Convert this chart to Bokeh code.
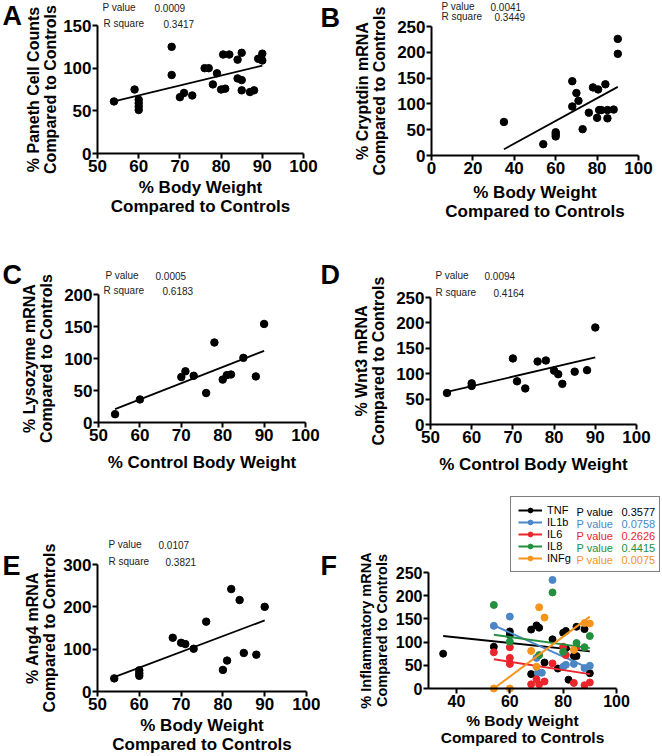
from bokeh.plotting import figure
from bokeh.models import Range1d, FixedTicker, Label, Legend, LegendItem
from bokeh.layouts import column, row
from bokeh.embed import file_html
from bokeh.resources import INLINE

FONT = "Liberation Sans"

# ---------------- data ----------------
# Panel A: Paneth cell counts
a_x = [54, 59, 60, 60, 60, 60, 68, 68, 70, 71, 73, 76, 77, 78, 79, 80, 81, 80.5, 82, 84, 84, 85, 85, 85, 87, 88, 89, 90, 90]
a_y = [61, 75, 63, 59, 55, 51, 125, 92, 66, 71, 68, 100, 100, 81, 94, 75, 76, 116, 116, 110, 88, 86, 118, 74, 72, 74, 111, 117, 109]
a_fit_x = [54, 90]
a_fit_y = [61, 103]

# Panel B: Cryptdin mRNA
b_x = [35, 54, 60, 60, 60, 68, 68, 70, 71, 73, 76, 78, 80, 80.5, 81, 82, 84, 85, 85, 88, 90, 90]
b_y = [65, 22, 45, 41, 37, 144, 95, 121, 106, 51, 83, 132, 73, 128, 88, 88, 138, 72, 88, 89, 226, 197]
b_fit_x = [35, 90]
b_fit_y = [12, 133]

# Panel C: Lysozyme mRNA
c_x = [54, 60, 70, 71, 73, 76, 78, 80, 81, 82, 85, 88, 90]
c_y = [13, 36, 71, 80, 73, 46, 125, 67, 74, 75, 101, 72, 154]
c_fit_x = [54, 90]
c_fit_y = [21, 112]

# Panel D: Wnt3 mRNA
d_x = [54, 60, 60, 70, 71, 73, 76, 78, 80, 81, 82, 85, 88, 90]
d_y = [62, 81, 76, 130, 85, 71, 124, 126, 106, 99, 80, 104, 107, 191]
d_fit_x = [54, 90]
d_fit_y = [64, 132]

# Panel E: Ang4 mRNA
e_x = [54, 60, 60, 60, 68, 70, 71, 73, 76, 80, 81, 82, 84, 85, 88, 90]
e_y = [31, 50, 43, 37, 127, 115, 112, 101, 165, 51, 73, 242, 216, 91, 87, 200]
e_fit_x = [54, 90]
e_fit_y = [34, 168]

# Panel F: inflammatory mRNA
f_names = ["TNF", "IL1b", "IL6", "IL8", "INFg"]
f_colors = ["#000000", "#4b86c6", "#e8262b", "#24903f", "#f7941e"]
f_pvalues = ["0.3577", "0.0758", "0.2626", "0.4415", "0.0075"]
f_x = [
    [35, 54, 60, 60, 68, 68, 70, 71, 73, 76, 78, 80, 81, 81, 82, 84, 85, 85, 88, 90],
    [54, 60, 70, 70.5, 72, 76, 80, 81, 84, 88, 90],
    [54, 60, 60, 60, 68, 70, 71, 73, 76, 80, 81, 84, 85, 88, 90],
    [54, 60, 71, 76, 80, 85, 88, 90],
    [54, 60, 68, 70, 71, 73, 84, 88, 90],
]
f_y = [
    [75, 90, 123, 115, 127, 31, 136, 131, 56, 106, 43, 120, 124, 87, 19, 70, 70, 133, 128, 33],
    [135, 155, 66, 34, 34, 234, 47, 51, 53, 44, 49],
    [78, 89, 66, 53, 9, 20, 9, 15, 54, 90, 72, 12, 90, 7, 13],
    [180, 101, 72, 207, 79, 98, 89, 113],
    [0, 0, 81, 47, 175, 153, 83, 141, 140],
]
f_fit_x = [[35, 90], [54, 90], [54, 90], [54, 90], [54, 90]]
f_fit_y = [[113, 80], [136, 43], [63, 31], [116, 87], [0, 155]]

# statistics text
stat_p = ["0.0009", "0.0041", "0.0005", "0.0094", "0.0107"]
stat_r = ["0.3417", "0.3449", "0.6183", "0.4164", "0.3821"]

# axis titles / ticks
y_titles = [
    "% Paneth Cell Counts\nCompared to Controls",
    "% Cryptdin mRNA\nCompared to Controls",
    "% Lysozyme mRNA\nCompared to Controls",
    "% Wnt3 mRNA\nCompared to Controls",
    "% Ang4 mRNA\nCompared to Controls",
    "% Inflammatory mRNA\nCompared to Controls",
]
x_titles = [
    "% Body Weight\nCompared to Controls",
    "% Body Weight\nCompared to Controls",
    "% Control Body Weight",
    "% Control Body Weight",
    "% Body Weight\nCompared to Controls",
    "% Body Weight\nCompared to Controls",
]
letters = ["A", "B", "C", "D", "E", "F"]
x_ticks_50 = [50, 60, 70, 80, 90, 100]


def make_panel(w, h, box, xr, yr, xt, yt, xlab, ylab, xstand=3, ystand=2,
               tick_size="17px", xlab_size="17px", ylab_size="16px"):
    """box = (left, right, top, bottom) pixel position of the axes inside the canvas."""
    bl, br, bt, bb = box
    sx = (br - bl) / (xr[1] - xr[0])
    sy = (bb - bt) / (yr[1] - yr[0])
    x_range = Range1d(xr[0] - bl / sx, xr[1] + (w - br) / sx)
    y_range = Range1d(yr[0] - (h - bb) / sy, yr[1] + bt / sy)
    p = figure(width=w, height=h, output_backend="svg", toolbar_location=None,
               x_range=x_range, y_range=y_range,
               min_border_left=0, min_border_right=0, min_border_top=0, min_border_bottom=0)
    p.outline_line_color = None
    p.grid.visible = False
    p.background_fill_color = "white"
    p.border_fill_color = "white"
    p.xaxis.ticker = FixedTicker(ticks=xt)
    p.yaxis.ticker = FixedTicker(ticks=yt)
    p.xaxis.fixed_location = yr[0]
    p.yaxis.fixed_location = xr[0]
    p.xaxis.bounds = xr
    p.yaxis.bounds = yr
    for ax in (p.xaxis[0], p.yaxis[0]):
        ax.axis_line_width = 2
        ax.axis_line_color = "black"
        ax.major_tick_line_width = 2
        ax.major_tick_line_color = "black"
        ax.major_tick_out = 5
        ax.major_tick_in = 0
        ax.minor_tick_line_color = None
        ax.major_label_text_font = FONT
        ax.major_label_text_font_style = "bold"
        ax.major_label_text_font_size = tick_size
        ax.major_label_text_color = "black"
        ax.major_label_standoff = 1
        ax.axis_label_text_font = FONT
        ax.axis_label_text_font_style = "bold"
        ax.axis_label_text_color = "black"
        ax.axis_label_text_line_height = 1.0
    p.xaxis.axis_label = xlab
    p.yaxis.axis_label = ylab
    p.xaxis.axis_label_text_font_size = xlab_size
    p.yaxis.axis_label_text_font_size = ylab_size
    p.xaxis.axis_label_standoff = xstand
    p.yaxis.axis_label_standoff = ystand
    return p


def add_text(p, fx, fy, text, size="10px", color="#222222", bold=False, baseline="middle"):
    p.add_layout(Label(x=fx, y=p.height - fy, x_units="screen", y_units="screen", text=text,
                       text_font=FONT, text_font_size=size, text_color=color,
                       text_font_style="bold" if bold else "normal",
                       text_baseline=baseline, text_align="left", level="overlay"))


def add_letter(p, fx, fy, text):
    add_text(p, fx, fy, text, size="27px", color="black", bold=True, baseline="top")


def add_stats(p, px, py, vx, rx, ry, rvx, pv, rv):
    add_text(p, px, py, "P value")
    add_text(p, vx, py, pv)
    add_text(p, rx, ry, "R square")
    add_text(p, rvx, ry, rv)


def simple(p, xs, ys, fx, fy):
    p.line(fx, fy, line_width=1.8, color="black")
    p.scatter(xs, ys, size=7.5, color="black")


LW, RW = 320, 342

# Row 1
pA = make_panel(LW, 240, (97, 303, 25, 153), (50, 100), (0, 150), x_ticks_50, [0, 50, 100, 150],
                x_titles[0], y_titles[0], xstand=3, ystand=1)
simple(pA, a_x, a_y, a_fit_x, a_fit_y)
add_letter(pA, 2, 0, letters[0])
add_stats(pA, 102, 7, 154, 103, 23, 163, stat_p[0], stat_r[0])

pB = make_panel(RW, 240, (111, 318, 26, 155), (0, 100), (0, 250), [0, 20, 40, 60, 80, 100],
                [0, 50, 100, 150, 200, 250], x_titles[1], y_titles[1], xstand=6, ystand=6)
simple(pB, b_x, b_y, b_fit_x, b_fit_y)
add_letter(pB, 0, 2, letters[1])
add_stats(pB, 121, 6, 170, 121, 16, 174, stat_p[1], stat_r[1])

# Row 2
pC = make_panel(LW, 250, (98, 305, 54, 182), (50, 100), (0, 200), x_ticks_50, [0, 50, 100, 150, 200],
                x_titles[2], y_titles[2], xstand=9, ystand=6)
simple(pC, c_x, c_y, c_fit_x, c_fit_y)
add_letter(pC, 2, 19, letters[2])
add_stats(pC, 105, 35, 155, 103, 50, 162, stat_p[2], stat_r[2])

pD = make_panel(RW, 250, (110, 316, 57, 184), (50, 100), (0, 250), x_ticks_50, [0, 50, 100, 150, 200, 250],
                x_titles[3], y_titles[3], xstand=9, ystand=6)
simple(pD, d_x, d_y, d_fit_x, d_fit_y)
add_letter(pD, 0, 19, letters[3])
add_stats(pD, 115, 35, 164, 115, 52, 173, stat_p[3], stat_r[3])

# Row 3
pE = make_panel(LW, 266, (97, 306, 74, 201), (50, 100), (0, 300), x_ticks_50, [0, 100, 200, 300],
                x_titles[4], y_titles[4], xstand=3, ystand=2)
simple(pE, e_x, e_y, e_fit_x, e_fit_y)
add_letter(pE, 2, 60, letters[4])
add_stats(pE, 108, 54, 158, 108, 71, 165, stat_p[4], stat_r[4])

pF = make_panel(RW, 266, (108, 296, 82, 198), (29.5, 100), (0, 250), [40, 60, 80, 100],
                [0, 50, 100, 150, 200, 250], x_titles[5], y_titles[5], xstand=2, ystand=3,
                tick_size="16px", xlab_size="15.5px", ylab_size="14.5px")
items = []
for name, col, xs, ys, fxs, fys in zip(f_names, f_colors, f_x, f_y, f_fit_x, f_fit_y):
    sr = pF.scatter(xs, ys, size=7, color=col)
    lr = pF.line(fxs, fys, line_width=2, color=col)
    items.append(LegendItem(label=name, renderers=[lr, sr]))
# legend box: left at x=190, bottom at y=82 (canvas pixels)
leg = Legend(items=items, location=(190, 266 - 82), orientation="vertical",
             label_text_font=FONT, label_text_font_size="11px", label_text_color="black",
             label_height=12, glyph_height=12, glyph_width=24, label_standoff=5, label_width=105,
             spacing=0, padding=7, margin=0,
             border_line_color="black", border_line_width=1.5,
             background_fill_color=None)
pF.add_layout(leg)
for i, (col, pv) in enumerate(zip(f_colors, f_pvalues)):
    fy = 21 + 12 * i
    add_text(pF, 256, fy, "P value", size="11px", color=col)
    add_text(pF, 301, fy, pv, size="11px", color=col)
add_letter(pF, 0, 60, letters[5])

layout = column(row(pA, pB), row(pC, pD), row(pE, pF))

with open("out.html", "w") as fh:
    fh.write(file_html(layout, INLINE))
